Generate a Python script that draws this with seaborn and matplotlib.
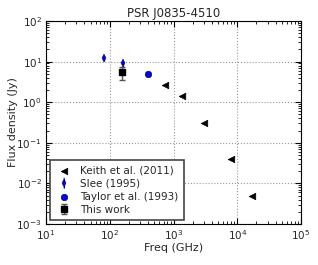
import matplotlib
matplotlib.use("Agg")
import matplotlib.pyplot as plt
import seaborn as sns

# Keith et al. (2011)
keith_freq = [730, 1380, 3000, 7900, 17200]
keith_flux = [2.6, 1.4, 0.30, 0.039, 0.0049]
# Slee (1995)
slee_freq = [80, 162]
slee_flux = [12.0, 9.0]
slee_err = [1.5, 1.5]
# Taylor et al. (1993)
taylor_freq = [400]
taylor_flux = [5.0]
# This work
this_freq = [155]
this_flux = [5.5]
this_err = [2.0]

sns.set_style("ticks")
plt.rcParams["font.family"] = ["DejaVu Sans"]
plt.rcParams["xtick.direction"] = "in"
plt.rcParams["ytick.direction"] = "in"

fig = plt.figure(figsize=(3.18, 2.65), dpi=100)
ax = fig.add_axes([46 / 318, 1 - 224 / 265, 255 / 318, 203 / 265])

sns.scatterplot(x=keith_freq, y=keith_flux, marker="<", color="black", s=22,
                edgecolor="black", linewidth=0.5, ax=ax, label="Keith et al. (2011)", zorder=3)
ax.errorbar(slee_freq, slee_flux, yerr=slee_err, fmt="d", color="blue", markersize=4,
            markeredgecolor="black", markeredgewidth=0.3, elinewidth=0.8, capsize=1,
            label="Slee (1995)", zorder=3)
sns.scatterplot(x=taylor_freq, y=taylor_flux, marker="o", color="blue", s=22,
                edgecolor="black", linewidth=0.4, ax=ax, label="Taylor et al. (1993)", zorder=3)
ax.errorbar(this_freq, this_flux, yerr=this_err, fmt="s", color="black", markersize=4,
            ecolor="#555555", elinewidth=1, capsize=2, label="This work", zorder=3)

ax.set_xscale("log")
ax.set_yscale("log")
ax.set_xlim(10, 1e5)
ax.set_ylim(1e-3, 1e2)
ax.grid(True, which="major", linestyle=":", color="#999999", linewidth=0.8)
ax.tick_params(which="both", top=True, right=True, labelsize=7.5, color="black", pad=3)
ax.tick_params(which="major", length=4)
ax.tick_params(which="minor", length=2)
for sp in ax.spines.values():
    sp.set_color("black")
    sp.set_linewidth(0.8)

ax.set_title("PSR J0835-4510", fontsize=8.5, pad=3)
ax.set_xlabel("Freq (GHz)", fontsize=8, labelpad=1)
ax.set_ylabel("Flux density (Jy)", fontsize=8)
ax.yaxis.set_label_coords(-0.108, 0.5)

handles, labels = ax.get_legend_handles_labels()
order = ["Keith et al. (2011)", "Slee (1995)", "Taylor et al. (1993)", "This work"]
hmap = dict(zip(labels, handles))
leg = ax.legend([hmap[k] for k in order], order, loc="lower left", fontsize=7.5,
                frameon=True, fancybox=False, edgecolor="#444444", framealpha=1,
                borderpad=0.5, handletextpad=0.8, labelspacing=0.3,
                borderaxespad=0.4, handlelength=1.6)
leg.get_frame().set_linewidth(1.2)

fig.savefig("out.png", dpi=100)
